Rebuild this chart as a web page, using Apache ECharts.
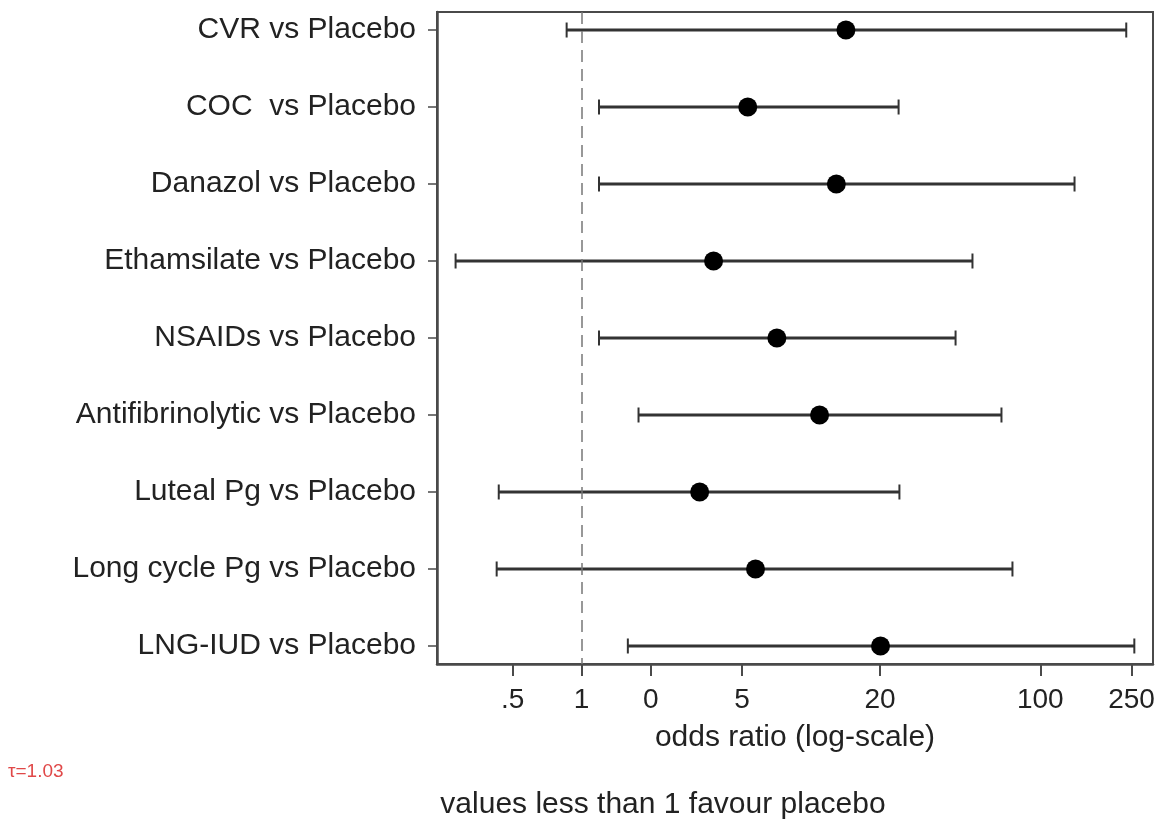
<!DOCTYPE html>
<html><head><meta charset="utf-8">
<script src="https://cdn.jsdelivr.net/npm/echarts@6/dist/echarts.min.js"></script>
<style>html,body{margin:0;padding:0;background:#fff}#c{width:1161px;height:828px}</style>
</head><body><div id="c"></div>
<script>
const categories = ['CVR vs Placebo','COC  vs Placebo','Danazol vs Placebo','Ethamsilate vs Placebo','NSAIDs vs Placebo','Antifibrinolytic vs Placebo','Luteal Pg vs Placebo','Long cycle Pg vs Placebo','LNG-IUD vs Placebo'];
const oddsRatio = [14.2, 5.3, 12.9, 3.76, 7.1, 10.9, 3.27, 5.73, 20.1];
const lowerCI = [0.86, 1.19, 1.19, 0.282, 1.19, 1.77, 0.435, 0.426, 1.59];
const upperCI = [237, 24.1, 141, 50.6, 42.7, 67.7, 24.3, 75.6, 257];
const tickValues = [0.5, 1, 2, 5, 20, 100, 250];
const tickLabels = ['.5','1','0','5','20','100','250'];
const xRange = [0.234, 310];
const rowPositions = categories.map((c, i) => i + 1);

const lg = v => Math.log10(v);
const font = 'Liberation Sans, Arial, Helvetica, sans-serif';
const txt = '#222';
const frame = '#4a4a4a';

const chart = echarts.init(document.getElementById('c'), null, {renderer: 'canvas'});
chart.setOption({
  animation: false,
  backgroundColor: '#fff',
  grid: {left: 437, right: 8, top: 12, bottom: 164, show: true, borderColor: frame, borderWidth: 2, backgroundColor: 'transparent'},
  xAxis: {
    type: 'value',
    min: lg(xRange[0]), max: lg(xRange[1]),
    splitLine: {show: false},
    axisLine: {show: true, onZero: false, lineStyle: {color: frame, width: 2.5}},
    axisTick: {show: true, length: 12, lineStyle: {color: frame, width: 2}, customValues: tickValues.map(lg)},
    axisLabel: {
      customValues: tickValues.map(lg),
      margin: 22, fontSize: 28, color: txt, fontFamily: font,
      formatter: v => {
        let best = 0, d = Infinity;
        tickValues.forEach((t, i) => { const dd = Math.abs(lg(t) - v); if (dd < d) { d = dd; best = i; } });
        return tickLabels[best];
      }
    },
    name: 'odds ratio (log-scale)', nameLocation: 'middle', nameGap: 59,
    nameTextStyle: {fontSize: 30, color: txt, fontFamily: font}
  },
  yAxis: {
    type: 'value', inverse: true, min: 0.766, max: 9.234,
    splitLine: {show: false},
    axisLine: {show: true, onZero: false, lineStyle: {color: frame, width: 2.5}},
    axisTick: {show: true, length: 9, lineStyle: {color: frame, width: 1.5}, customValues: rowPositions},
    axisLabel: {
      customValues: rowPositions,
      margin: 21, fontSize: 30, color: txt, fontFamily: font,
      formatter: v => categories[Math.round(v) - 1] || ''
    }
  },
  series: [
    {
      type: 'custom',
      data: categories.map((c, i) => [lg(lowerCI[i]), lg(upperCI[i]), rowPositions[i]]),
      encode: {x: [0, 1], y: 2},
      z: 3,
      renderItem: (params, api) => {
        const y = api.value(2);
        const a = api.coord([api.value(0), y]);
        const b = api.coord([api.value(1), y]);
        const h = 7.5;
        return {type: 'group', children: [
          {type: 'line', shape: {x1: a[0], y1: a[1], x2: b[0], y2: b[1]}, style: {stroke: '#333', lineWidth: 3}},
          {type: 'line', shape: {x1: a[0], y1: a[1] - h, x2: a[0], y2: a[1] + h}, style: {stroke: '#333', lineWidth: 2}},
          {type: 'line', shape: {x1: b[0], y1: b[1] - h, x2: b[0], y2: b[1] + h}, style: {stroke: '#333', lineWidth: 2}}
        ]};
      }
    },
    {
      type: 'scatter',
      data: categories.map((c, i) => [lg(oddsRatio[i]), rowPositions[i]]),
      symbol: 'circle', symbolSize: 19,
      itemStyle: {color: '#000', opacity: 1},
      z: 4,
      markLine: {
        silent: true, symbol: ['none', 'none'],
        label: {show: false},
        lineStyle: {type: [12, 7], color: '#777', width: 1.5},
        data: [{xAxis: lg(1)}]
      }
    }
  ],
  graphic: [
    {type: 'text', left: 8, top: 762, style: {text: 'τ=1.03', fontSize: 19, fill: '#e04848', fontFamily: font}},
    {type: 'text', x: 663, y: 805, style: {text: 'values less than 1 favour placebo', fontSize: 30, fill: txt, fontFamily: font, align: 'center', verticalAlign: 'middle'}}
  ]
});
</script></body></html>
